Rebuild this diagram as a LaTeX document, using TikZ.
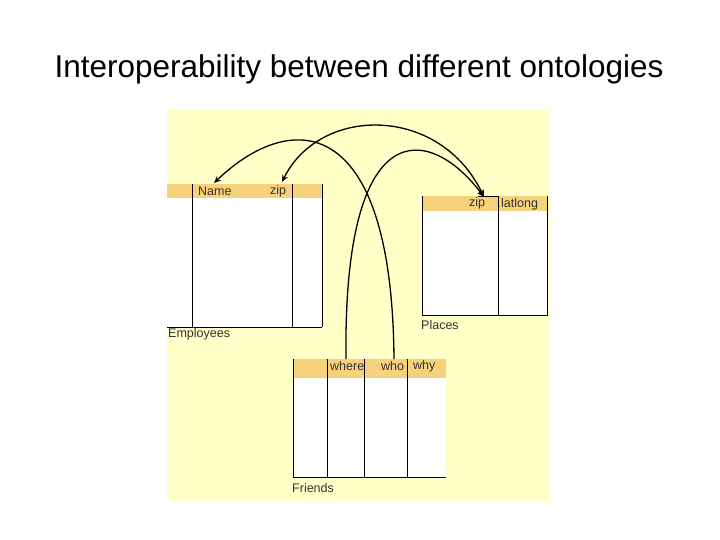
\documentclass[tikz,border=0pt]{standalone}
\usepackage{fontspec}
\setmainfont{Liberation Sans}
\usetikzlibrary{arrows.meta}
\definecolor{panel}{HTML}{FFFFC8}
\definecolor{hdr}{HTML}{F7D27C}
\begin{document}
\begin{tikzpicture}[x=1pt,y=-1pt,
  lab/.style={font=\fontsize{12.5}{14}\selectfont,inner sep=0pt,text=black!80},
  conn/.style={line width=1.3pt,-{Stealth[length=7pt,width=6pt]}}]
\useasboundingbox (0,0) rectangle (720,540);
\node[font=\fontsize{31.5}{36}\selectfont] (title) at (359,69) {Interoperability between different ontologies};
\fill[panel] (167,110) rectangle (549,501);
% Employees
\fill[white] (167,198) rectangle (322,327);
\fill[hdr] (167,184) rectangle (322,198);
\draw (192,184) -- (192,327) (292,184) -- (292,327) (322,184) -- (322,327) (167,327) -- (322,327);
\node[lab,anchor=west] (ename) at (198,191) {Name};
\node[lab,anchor=west] (ezip) at (270,191) {zip};
\node[lab,anchor=west] (emp) at (168,334) {Employees};
% Places
\fill[white] (422,211) rectangle (547,315);
\fill[hdr] (422,196) rectangle (547,211);
\draw (422,196) -- (422,315) -- (547,315) -- (547,196) (498,196) -- (498,315) (478,196) -- (498,196);
\node[lab,anchor=west] (pzip) at (469,203) {zip};
\node[lab,anchor=west] (plat) at (501,204) {latlong};
\node[lab,anchor=west] (pl) at (421,325) {Places};
% Friends
\fill[white] (293,378) rectangle (446,477);
\fill[hdr] (293,359) rectangle (446,378);
\draw (293,359) -- (293,477) -- (446,477) (327,359) -- (327,477) (364,359) -- (364,477) (407,359) -- (407,477);
\node[lab,anchor=west] (fwhere) at (330,366) {where};
\node[lab,anchor=west] (fwho) at (381,366) {who};
\node[lab,anchor=west] (fwhy) at (413,366) {why};
\node[lab,anchor=west] (fr) at (292,488) {Friends};
% connectors
\coordinate (a1) at (282,182);
\coordinate (a2) at (484,197);
\coordinate (nm) at (214,183);
\coordinate (w1) at (346,359);
\coordinate (w2) at (394,359);
\draw[conn,{Stealth[length=7pt,width=6pt]}-{Stealth[length=7pt,width=6pt]}] (a1) .. controls (320,105) and (440,105) .. (a2);
\draw[conn] (w2) .. controls (392,110) and (290,110) .. (nm);
\draw[conn] (w1) .. controls (343,110) and (430,125) .. (a2);
\end{tikzpicture}
\end{document}
